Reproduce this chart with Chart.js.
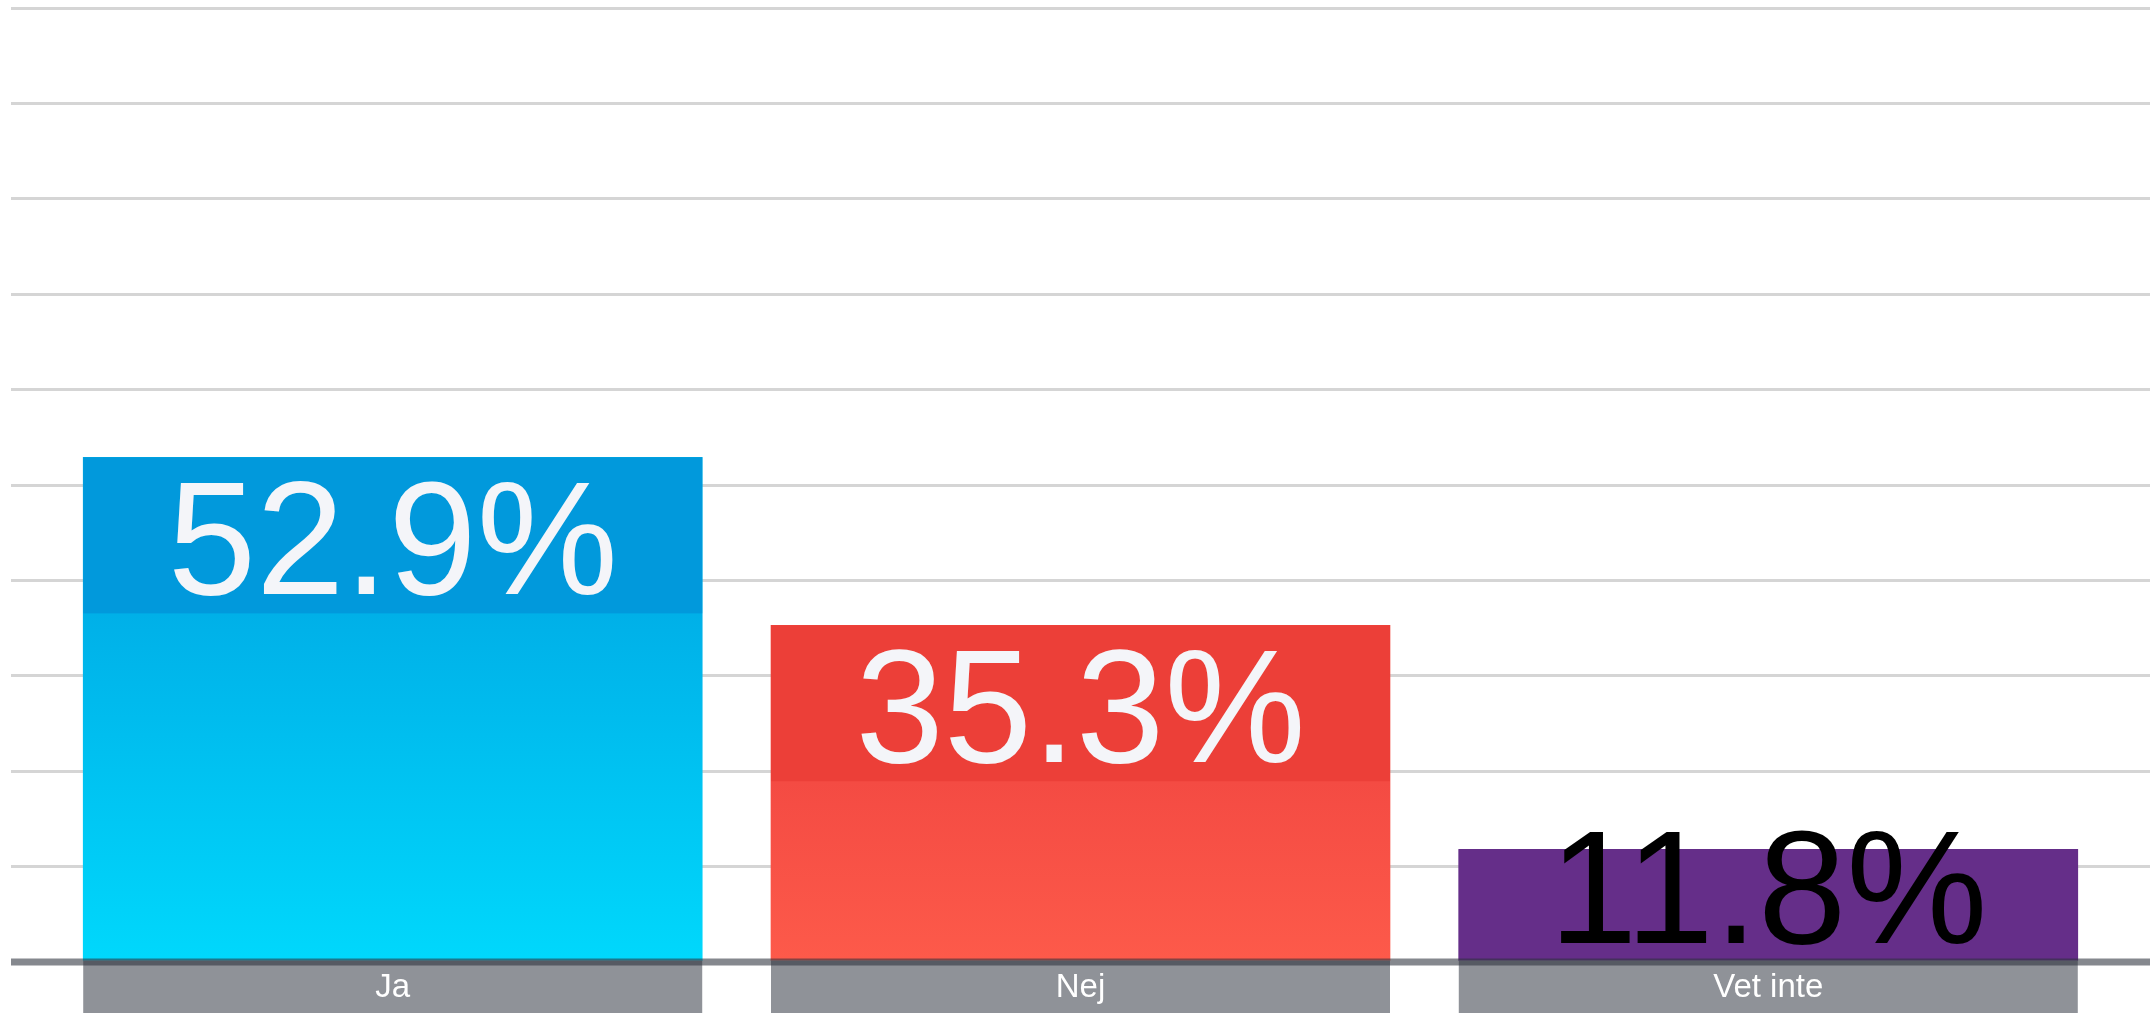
<!DOCTYPE html>
<html>
<head>
<meta charset="utf-8">
<script src="https://cdn.jsdelivr.net/npm/chart.js@4/dist/chart.umd.min.js"></script>
<style>
  html, body { margin: 0; padding: 0; background: #ffffff; }
  #wrap { width: 2156px; height: 1013px; }
</style>
</head>
<body>
<div id="wrap"><canvas id="c" width="2156" height="1013"></canvas></div>
<script>
// ---- data ----
const categories = ["Ja", "Nej", "Vet inte"];
const values = [52.9, 35.3, 11.8];
const yTicks = [0, 10, 20, 30, 40, 50, 60, 70, 80, 90, 100];
// ---- colours ----
const gradTopColors = ["#00b0e8", "#f44b43", "#652e89"];
const gradBottomColors = ["#00d8fc", "#fd5a4a", "#652e89"];
const bandColors = ["#0199dc", "#ec3f38", "#652e89"];

const BAND_H = 156;

const overlayPlugin = {
  id: 'overlay',
  afterDatasetsDraw(chart) {
    const ctx = chart.ctx;
    const meta = chart.getDatasetMeta(0);
    const area = chart.chartArea;
    const H = chart.height;
    ctx.save();
    meta.data.forEach((bar, i) => {
      const p = bar.getProps(['x', 'y', 'base', 'width'], true);
      const left = p.x - p.width / 2;
      const barH = p.base - p.y;
      // top band
      const bandBottom = Math.min(p.y + BAND_H, p.base);
      ctx.fillStyle = bandColors[i];
      ctx.fillRect(left, p.y, p.width, bandBottom - p.y);
      // category box below baseline
      ctx.fillStyle = '#8f9298';
      ctx.fillRect(left, p.base, p.width, H - p.base);
      ctx.fillStyle = '#ffffff';
      ctx.font = '33px "Liberation Sans", Arial, sans-serif';
      ctx.textAlign = 'center';
      ctx.textBaseline = 'alphabetic';
      ctx.fillText(categories[i], p.x, 997);
      // value label
      const clamped = barH < BAND_H;
      const textBase = clamped ? p.base - 18 : p.y + 137;
      ctx.save();
      ctx.translate(p.x, textBase);
      ctx.scale(0.98, 1);
      ctx.font = '162px "Liberation Sans", Arial, sans-serif';
      ctx.textAlign = 'center';
      ctx.textBaseline = 'alphabetic';
      ctx.fillStyle = clamped ? '#000000' : '#f4f5f9';
      ctx.fillText(values[i].toFixed(1) + '%', 0, 0);
      ctx.restore();
    });
    // baseline
    const y0 = chart.scales.y.getPixelForValue(0);
    ctx.fillStyle = 'rgba(45,50,60,0.58)';
    ctx.fillRect(area.left, y0 - 3.5, area.right - area.left, 7);
    ctx.restore();
  }
};

new Chart(document.getElementById('c'), {
  type: 'bar',
  data: {
    datasets: [{
      data: values.map((v, i) => ({ x: i, y: v })),
      barThickness: 619,
      borderWidth: 0,
      backgroundColor: (ctx) => {
        const chart = ctx.chart;
        const i = ctx.dataIndex;
        if (!chart.chartArea || !chart.scales.y || i === undefined) return gradTopColors[i || 0];
        const yTop = chart.scales.y.getPixelForValue(values[i]) + BAND_H;
        const yBot = chart.scales.y.getPixelForValue(0);
        if (yBot - yTop < 2) return gradTopColors[i];
        const g = chart.ctx.createLinearGradient(0, yTop, 0, yBot);
        g.addColorStop(0, gradTopColors[i]);
        g.addColorStop(1, gradBottomColors[i]);
        return g;
      }
    }]
  },
  options: {
    responsive: false,
    animation: false,
    layout: { padding: { left: 11, right: 6, top: 8, bottom: 51 } },
    plugins: { legend: { display: false }, tooltip: { enabled: false } },
    scales: {
      x: { type: 'linear', min: -0.555, max: 2.555, offset: false, display: false },
      y: {
        min: 0, max: 100,
        afterBuildTicks: (axis) => { axis.ticks = yTicks.map(v => ({ value: v })); },
        ticks: { display: false },
        border: { display: false },
        grid: {
          drawTicks: false,
          lineWidth: 3,
          color: (c) => (c.tick && c.tick.value === 0) ? 'rgba(0,0,0,0)' : '#d5d5d5'
        }
      }
    }
  },
  plugins: [overlayPlugin]
});
</script>
</body>
</html>
